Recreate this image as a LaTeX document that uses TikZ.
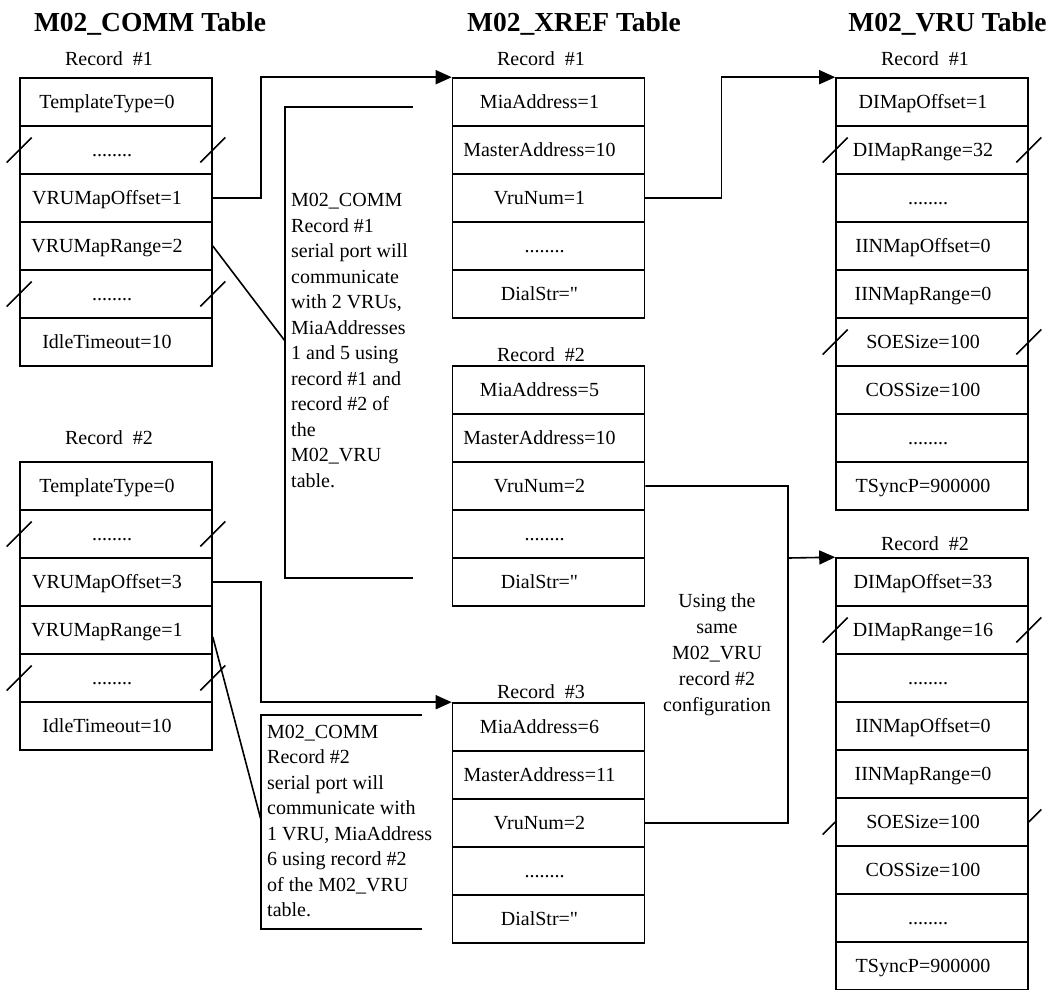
\documentclass[tikz,border=0pt]{standalone}
\usepackage{fontspec}
\setmainfont{Liberation Serif}
\usetikzlibrary{arrows.meta}
\tikzset{
 cell/.style={draw, fill=white, line width=1.6pt, minimum width=192pt, minimum height=48pt, inner sep=0pt, text height=14pt, text depth=2pt, font=\fontsize{20}{24}\selectfont},
 conn/.style={line width=1.6pt},
 arr/.style={conn, -{Triangle[length=16pt,width=14pt]}},
 slashline/.style={line width=1.6pt},
 lbl/.style={font=\fontsize{20}{24}\selectfont, inner sep=0pt, anchor=base},
 ttl/.style={font=\bfseries\fontsize{27.5}{32}\selectfont, inner sep=0pt, anchor=base},
 note/.style={font=\fontsize{20}{25.5}\selectfont, inner sep=0pt, align=left, anchor=base west},
 notec/.style={font=\fontsize{20}{25.8}\selectfont, inner sep=0pt, align=center, anchor=base},
}
\newcommand{\ct}[1]{#1\kern18pt}
\newcommand{\dt}{........\kern8pt}
\newcommand{\sq}{\XeTeXglyph\XeTeXcharglyph"22\relax}
\newcommand{\dslash}[1]{%
  \draw[slashline] ([shift={(-12.5,12.5)}]#1.west) -- ++(25,-25);
  \draw[slashline] ([shift={(-12.5,12.5)}]#1.east) -- ++(25,-25);}
\begin{document}
\begin{tikzpicture}[x=1pt,y=-1pt]
\useasboundingbox (0,0) rectangle (1053,989);

% titles
\node[ttl] (t1) at (150,31) {M02\_COMM Table};
\node[ttl] (t2) at (574,31) {M02\_XREF Table};
\node[ttl] (t3) at (947.5,31) {M02\_VRU Table};

% record labels
\node[lbl] (lc1) at (109,65) {Record\ \ \#1};
\node[lbl] (lc2) at (109,444) {Record\ \ \#2};
\node[lbl] (lx1) at (541,65) {Record\ \ \#1};
\node[lbl] (lx2) at (541,361) {Record\ \ \#2};
\node[lbl] (lx3) at (541,698) {Record\ \ \#3};
\node[lbl] (lv1) at (925,65) {Record\ \ \#1};
\node[lbl] (lv2) at (925,550) {Record\ \ \#2};

% COMM record 1
\node[cell] (c1r1) at (116,102) {\ct{TemplateType=0}};
\node[cell] (c1r2) at (116,150) {\dt};
\node[cell] (c1r3) at (116,198) {\ct{VRUMapOffset=1}};
\node[cell] (c1r4) at (116,246) {\ct{VRUMapRange=2}};
\node[cell] (c1r5) at (116,294) {\dt};
\node[cell] (c1r6) at (116,342) {\ct{IdleTimeout=10}};

% COMM record 2
\node[cell] (c2r1) at (116,486) {\ct{TemplateType=0}};
\node[cell] (c2r2) at (116,534) {\dt};
\node[cell] (c2r3) at (116,582) {\ct{VRUMapOffset=3}};
\node[cell] (c2r4) at (116,630) {\ct{VRUMapRange=1}};
\node[cell] (c2r5) at (116,678) {\dt};
\node[cell] (c2r6) at (116,726) {\ct{IdleTimeout=10}};

% XREF record 1
\node[cell] (x1r1) at (548.5,102) {\ct{MiaAddress=1}};
\node[cell] (x1r2) at (548.5,150) {\ct{MasterAddress=10}};
\node[cell] (x1r3) at (548.5,198) {\ct{VruNum=1}};
\node[cell] (x1r4) at (548.5,246) {\dt};
\node[cell] (x1r5) at (548.5,294) {\ct{DialStr=\sq}};

% XREF record 2
\node[cell] (x2r1) at (548.5,390) {\ct{MiaAddress=5}};
\node[cell] (x2r2) at (548.5,438) {\ct{MasterAddress=10}};
\node[cell] (x2r3) at (548.5,486) {\ct{VruNum=2}};
\node[cell] (x2r4) at (548.5,534) {\dt};
\node[cell] (x2r5) at (548.5,582) {\ct{DialStr=\sq}};

% XREF record 3
\node[cell] (x3r1) at (548.5,727) {\ct{MiaAddress=6}};
\node[cell] (x3r2) at (548.5,775) {\ct{MasterAddress=11}};
\node[cell] (x3r3) at (548.5,823) {\ct{VruNum=2}};
\node[cell] (x3r4) at (548.5,871) {\dt};
\node[cell] (x3r5) at (548.5,919) {\ct{DialStr=\sq}};

% VRU record 1
\node[cell] (v1r1) at (932,102) {\ct{DIMapOffset=1}};
\node[cell] (v1r2) at (932,150) {\ct{DIMapRange=32}};
\node[cell] (v1r3) at (932,198) {\dt};
\node[cell] (v1r4) at (932,246) {\ct{IINMapOffset=0}};
\node[cell] (v1r5) at (932,294) {\ct{IINMapRange=0}};
\node[cell] (v1r6) at (932,342) {\ct{SOESize=100}};
\node[cell] (v1r7) at (932,390) {\ct{COSSize=100}};
\node[cell] (v1r8) at (932,438) {\dt};
\node[cell] (v1r9) at (932,486) {\ct{TSyncP=900000}};

% VRU record 2
\node[cell] (v2r1) at (932,582) {\ct{DIMapOffset=33}};
\node[cell] (v2r2) at (932,630) {\ct{DIMapRange=16}};
\node[cell] (v2r3) at (932,678) {\dt};
\node[cell] (v2r4) at (932,726) {\ct{IINMapOffset=0}};
\node[cell] (v2r5) at (932,774) {\ct{IINMapRange=0}};
\node[cell] (v2r6) at (932,822) {\ct{SOESize=100}};
\node[cell] (v2r7) at (932,870) {\ct{COSSize=100}};
\node[cell] (v2r8) at (932,918) {\dt};
\node[cell] (v2r9) at (932,966) {\ct{TSyncP=900000}};

% slashes
\dslash{c1r2}
\dslash{c1r5}
\dslash{c2r2}
\dslash{c2r5}
\dslash{v1r2}
\dslash{v1r6}
\dslash{v2r2}
\draw[slashline] ([shift={(-12.5,12.5)}]v2r6.west) -- (v2r6.west);
\draw[slashline] (v2r6.east) -- ++(12.5,-12.5);

% notes (anchor = baseline of the last line)
\node[note] (n1) at (291,487) {M02\_COMM\\Record \#1\\serial port will\\communicate\\with 2 VRUs,\\MiaAddresses\\1 and 5 using\\record \#1 and\\record \#2 of\\the\\M02\_VRU\\table.};
\node[note] (n2) at (267,916.5) {M02\_COMM\\Record \#2\\serial port will\\communicate with\\1 VRU, MiaAddress\\6 using record \#2\\of the M02\_VRU\\table.};
\node[notec] (n3) at (717,711) {Using the\\same\\M02\_VRU\\record \#2\\configuration};

% brackets
\draw[conn] (413,107) -- (285,107) -- (285,578) -- (413,578);
\draw[conn] (422,715) -- (261,715) -- (261,929) -- (422,929);
\coordinate (d1) at (285,341);
\coordinate (d2) at (261,820);
\draw[conn] (c1r4.east) -- (d1);
\draw[conn] ([yshift=-7pt]c2r4.east) -- (d2);

% connectors
\draw[arr] (c1r3.east) -- ++(48,0) |- (x1r1.north west);
\draw[arr] (x1r3.east) -- ++(76,0) |- (v1r1.north west);
\coordinate (j) at (788,558);
\draw[arr] (x2r3.east) -| (j) -- (v2r1.north west);
\draw[conn] (x3r3.east) -| (j);
\draw[arr] (c2r3.east) -- ++(48,0) |- (x3r1.north west);
\end{tikzpicture}
\end{document}
